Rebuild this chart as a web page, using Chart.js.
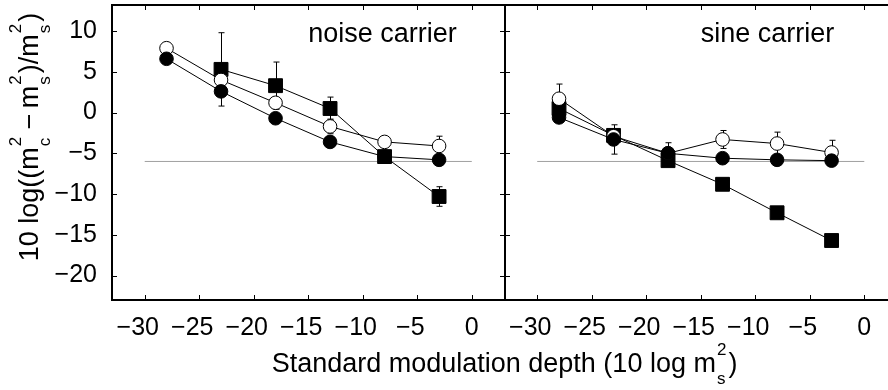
<!DOCTYPE html>
<html>
<head>
<meta charset="utf-8">
<script src="https://cdn.jsdelivr.net/npm/chart.js@4.4.0/dist/chart.umd.min.js"></script>
<style>
  html, body { margin: 0; padding: 0; background: #fff; overflow: hidden; }
  #wrap { width: 888px; height: 390px; overflow: hidden; }
  canvas { display: block; }
</style>
</head>
<body>
<div id="wrap"><canvas id="myChart" width="900" height="390"></canvas></div>
<script>
// modulation depths (dB) used in both panels
const depths = [-28, -23, -18, -13, -8, -3];
const xTicks = [-30, -25, -20, -15, -10, -5, 0];
const yTicks = [10, 5, 0, -5, -10, -15, -20];
const refLevel = -6;

// noise carrier
const noiseOpen = [7.9, 4.0, 1.2, -1.7, -3.6, -4.1];
const noiseOpenErr = [0, 0, 0, 0.9, 0, 1.2];
const noiseFilled = [6.6, 2.6, -0.7, -3.6, -5.4, -5.8];
const noiseSquare = [null, 5.3, 3.3, 0.5, -5.4, -10.3];
const noiseSquareErr = [0, 4.5, 2.9, 1.4, 0, 1.2];

// sine carrier
const sineOpen = [1.7, -2.9, -5.0, -3.3, -3.8, -4.9];
const sineOpenErr = [1.8, 0, 1.3, 1.1, 1.4, 1.5];
const sineFilled = [-0.6, -3.3, -5.0, -5.6, -5.8, -5.9];
const sineFilledErr = [0, 1.8, 0, 0, 0, 0];
const sineSquare = [0.5, -2.8, -5.9, -8.8, -12.3, -15.7];

const FONT = "'Liberation Sans', Arial, Helvetica, sans-serif";
const minus = v => (v < 0 ? '\u2212' + (-v) : String(v));

const points = vals => depths.map((x, i) => ({ x: x, y: vals[i] }));

const markerStyles = {
  filled: { pointStyle: 'circle', pointRadius: 6.8, pointBackgroundColor: '#000', order: 1 },
  open: { pointStyle: 'circle', pointRadius: 6.8, pointBackgroundColor: '#fff', order: 2 },
  square: { pointStyle: 'rect', pointRadius: 9.8, pointBackgroundColor: '#000', order: 3 }
};

function series(vals, axis, kind, errors) {
  return Object.assign({
    type: 'line',
    data: points(vals),
    xAxisID: axis,
    errors: errors || null,
    borderColor: '#000',
    borderWidth: 1,
    pointBorderColor: '#000',
    pointBorderWidth: 1,
    fill: false,
    tension: 0
  }, markerStyles[kind]);
}

function refLine(axis) {
  return {
    type: 'line',
    data: [{ x: xTicks[0], y: refLevel }, { x: xTicks[xTicks.length - 1], y: refLevel }],
    xAxisID: axis,
    borderColor: '#a0a0a0',
    borderWidth: 1,
    pointRadius: 0,
    order: 4
  };
}

// text with stacked super/subscripts, e.g. m_c^2
const mainFont = '27px ' + FONT;
const scriptFont = '17px ' + FONT;

function scriptWidth(ctx, p) {
  ctx.font = scriptFont;
  return Math.max(ctx.measureText(p.sup).width, ctx.measureText(p.sub).width) + 3;
}

function richWidth(ctx, parts) {
  let w = 0;
  parts.forEach(p => {
    if (p.text) {
      ctx.font = mainFont;
      w += ctx.measureText(p.text).width;
    } else {
      w += scriptWidth(ctx, p);
    }
  });
  return w;
}

function drawRich(ctx, parts, x, y) {
  ctx.textAlign = 'left';
  ctx.textBaseline = 'alphabetic';
  parts.forEach(p => {
    if (p.text) {
      ctx.font = mainFont;
      ctx.fillText(p.text, x, y);
      x += ctx.measureText(p.text).width;
    } else {
      const w = scriptWidth(ctx, p);
      ctx.fillText(p.sup, x + 1, y - 17);
      ctx.fillText(p.sub, x + 1, y + 12);
      x += w;
    }
  });
}

const yTitle = [
  { text: '10 log((m' }, { sup: '2', sub: 'c' },
  { text: '\u2009\u2212\u2009m' }, { sup: '2', sub: 's' },
  { text: ')/m' }, { sup: '2', sub: 's' },
  { text: ')' }
];
const xTitle = [
  { text: 'Standard modulation depth (10 log m' }, { sup: '2', sub: 's' },
  { text: ')' }
];

const errorBars = {
  id: 'errorBars',
  beforeDatasetsDraw(chart) {
    const ctx = chart.ctx;
    const yScale = chart.scales.y;
    ctx.save();
    ctx.strokeStyle = '#000';
    ctx.lineWidth = 1;
    chart.data.datasets.forEach(ds => {
      if (!ds.errors) return;
      const xScale = chart.scales[ds.xAxisID];
      ds.data.forEach((pt, j) => {
        const e = ds.errors[j];
        if (!e || pt.y === null) return;
        const px = Math.round(xScale.getPixelForValue(pt.x)) + 0.5;
        const top = yScale.getPixelForValue(pt.y + e);
        const bot = yScale.getPixelForValue(pt.y - e);
        ctx.beginPath();
        ctx.moveTo(px, top); ctx.lineTo(px, bot);
        ctx.moveTo(px - 3, top); ctx.lineTo(px + 3, top);
        ctx.moveTo(px - 3, bot); ctx.lineTo(px + 3, bot);
        ctx.stroke();
      });
    });
    ctx.restore();
  }
};

const panelFrames = {
  id: 'panelFrames',
  afterDraw(chart) {
    const ctx = chart.ctx;
    const y = chart.scales.y;
    ctx.save();
    ctx.strokeStyle = '#000';
    ['x1', 'x2'].forEach(id => {
      const x = chart.scales[id];
      const l = Math.round(x.left), r = Math.round(x.right);
      // inward tick marks on all four sides
      ctx.lineWidth = 1;
      ctx.beginPath();
      xTicks.forEach(v => {
        const p = Math.round(x.getPixelForValue(v)) + 0.5;
        ctx.moveTo(p, y.bottom); ctx.lineTo(p, y.bottom - 5);
        ctx.moveTo(p, y.top); ctx.lineTo(p, y.top + 5);
      });
      yTicks.forEach(v => {
        const p = Math.round(y.getPixelForValue(v)) + 0.5;
        ctx.moveTo(l, p); ctx.lineTo(l + 5, p);
        ctx.moveTo(r, p); ctx.lineTo(r - 5, p);
      });
      ctx.stroke();
      ctx.lineWidth = 2;
      ctx.strokeRect(l, Math.round(y.top), r - l, Math.round(y.bottom - y.top));
    });

    // panel labels
    ctx.fillStyle = '#000';
    ctx.font = '27px ' + FONT;
    ctx.textAlign = 'left';
    ctx.textBaseline = 'alphabetic';
    const ty = y.getPixelForValue(10) + 11;
    ctx.fillText('noise carrier', chart.scales.x1.getPixelForValue(-15), ty);
    ctx.fillText('sine carrier', chart.scales.x2.getPixelForValue(-15), ty);

    // axis titles
    const xw = richWidth(ctx, xTitle);
    const cx = (chart.chartArea.left + chart.chartArea.right) / 2;
    drawRich(ctx, xTitle, cx - xw / 2, 372);

    const yw = richWidth(ctx, yTitle);
    ctx.translate(38, 137 + yw / 2);
    ctx.rotate(-Math.PI / 2);
    drawRich(ctx, yTitle, 0, 0);
    ctx.restore();
  }
};

function xScale() {
  return {
    type: 'linear',
    position: 'bottom',
    stack: 'panels',
    stackWeight: 1,
    min: -33,
    max: 3,
    grid: { display: false },
    border: { display: false },
    afterBuildTicks: s => { s.ticks = xTicks.map(v => ({ value: v })); },
    afterFit: s => {
      s.height = 90;
      s.paddingLeft = 0;
      s.paddingRight = 0;
    },
    ticks: {
      autoSkip: false,
      maxRotation: 0,
      padding: 5,
      color: '#000',
      font: { family: FONT, size: 25 },
      // pad negative labels so the digits sit over the tick
      callback: v => (v < 0 ? minus(v) + '\u2007' : String(v))
    }
  };
}

const ctx = document.getElementById('myChart');

new Chart(ctx, {
  type: 'line',
  data: {
    datasets: [
      series(noiseFilled, 'x1', 'filled'),
      series(noiseOpen, 'x1', 'open', noiseOpenErr),
      series(noiseSquare, 'x1', 'square', noiseSquareErr),
      refLine('x1'),
      series(sineFilled, 'x2', 'filled', sineFilledErr),
      series(sineOpen, 'x2', 'open', sineOpenErr),
      series(sineSquare, 'x2', 'square'),
      refLine('x2')
    ]
  },
  options: {
    responsive: false,
    animation: false,
    events: [],
    // right panel ends just past the visible edge
    layout: { autoPadding: false, padding: { top: 5, right: 3, bottom: 0, left: 0 } },
    plugins: {
      legend: { display: false },
      tooltip: { enabled: false }
    },
    scales: {
      x1: xScale(),
      x2: xScale(),
      y: {
        type: 'linear',
        min: -23,
        max: 13.2,
        grid: { display: false },
        border: { display: false },
        afterBuildTicks: s => { s.ticks = yTicks.map(v => ({ value: v })); },
        afterFit: s => {
          s.width = 112;
          s.paddingTop = 0;
          s.paddingBottom = 0;
        },
        ticks: {
          padding: 7,
          color: '#000',
          font: { family: FONT, size: 25 },
          callback: v => minus(v)
        }
      }
    }
  },
  plugins: [errorBars, panelFrames]
});
</script>
</body>
</html>
